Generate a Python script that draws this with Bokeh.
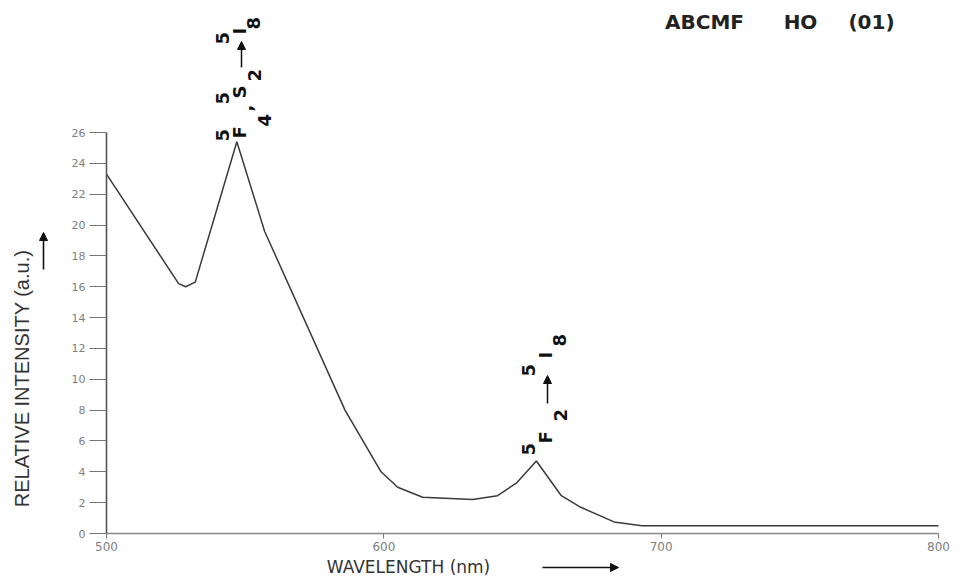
from bokeh.plotting import figure
from bokeh.models import Range1d, FixedTicker, Label, Arrow, NormalHead
from bokeh.embed import file_html
from bokeh.resources import INLINE
import math

# ---- data ----
wavelength = [500, 526, 528.5, 532, 547, 557, 586, 599, 605, 614, 632, 641, 648, 655, 664, 671, 683, 693, 800]
intensity = [23.3, 16.2, 16.0, 16.3, 25.4, 19.6, 8.0, 4.0, 3.0, 2.35, 2.2, 2.45, 3.3, 4.7, 2.45, 1.7, 0.75, 0.5, 0.5]
x_ticks = [500, 600, 700, 800]
y_ticks = [0, 2, 4, 6, 8, 10, 12, 14, 16, 18, 20, 22, 24, 26]
title_words = ["ABCMF", "HO", "(01)"]
x_label = "WAVELENGTH (nm)"
y_label = "RELATIVE INTENSITY (a.u.)"

# annotation pieces: (text, role)
peak1_pieces = [("5", "sup"), ("F", "main"), ("4", "sub"), (",", "sep"),
                ("5", "sup"), ("S", "main"), ("2", "sub"), ("->", "arrow"),
                ("5", "sup"), ("I", "main"), ("8", "sub")]
peak2_pieces = [("5", "sup"), ("F", "main"), ("2", "sub"), ("->", "arrow"),
                ("5", "sup"), ("I", "main"), ("8", "sub")]

# ---- layout (pixels) ----
W, H = 958, 578
AX_LEFT_PX, AX_RIGHT_PX = 106, 938      # x = 500 and x = 800
AX_ZERO_PX, AX_TOP_PX = 533, 132        # y = 0 and y = 26
NM_PER_PX = 300.0 / (AX_RIGHT_PX - AX_LEFT_PX)
UNIT_PER_PX = 26.0 / (AX_ZERO_PX - AX_TOP_PX)

x_start = 500 - AX_LEFT_PX * NM_PER_PX
x_end = 500 + (W - AX_LEFT_PX) * NM_PER_PX
y_start = -(H - AX_ZERO_PX) * UNIT_PER_PX
y_end = AX_ZERO_PX * UNIT_PER_PX

p = figure(width=W, height=H, output_backend="svg", toolbar_location=None,
           x_range=Range1d(x_start, x_end), y_range=Range1d(y_start, y_end),
           min_border=0, min_border_left=0, min_border_right=0,
           min_border_top=0, min_border_bottom=0)
p.outline_line_color = None
p.grid.visible = False
p.background_fill_color = "white"
p.border_fill_color = "white"

p.line(wavelength, intensity, line_color="#3a3a3a", line_width=1.5)

# axes drawn at fixed data locations inside the frame
p.xaxis.fixed_location = 0
p.xaxis.ticker = FixedTicker(ticks=x_ticks)
p.xaxis.bounds = (500, 800)
p.xaxis.axis_line_color = "#888888"
p.xaxis.axis_line_width = 1.6
p.xaxis.major_tick_line_color = "#777777"
p.xaxis.major_tick_out = 5
p.xaxis.major_tick_in = 0
p.xaxis.minor_tick_line_color = None
p.xaxis.major_label_text_font = "DejaVu Sans"
p.xaxis.major_label_text_font_size = "12px"
p.xaxis.major_label_text_color = "#808080"
p.xaxis.major_label_standoff = 3

p.yaxis.fixed_location = 500
p.yaxis.ticker = FixedTicker(ticks=y_ticks)
p.yaxis.bounds = (0, 26)
p.yaxis.axis_line_color = "#555555"
p.yaxis.axis_line_width = 1.6
p.yaxis.major_tick_line_color = "#777777"
p.yaxis.major_tick_out = 17
p.yaxis.major_tick_in = 0
p.yaxis.minor_tick_line_color = None
p.yaxis.major_label_text_font = "DejaVu Sans"
p.yaxis.major_label_text_font_size = "11px"
p.yaxis.major_label_text_color = "#808080"
p.yaxis.major_label_standoff = 4


# helpers converting pixel positions to data units (text placement only)
def dx(px):
    return 500 + (px - AX_LEFT_PX) * NM_PER_PX


def dy(py):
    return (AX_ZERO_PX - py) * UNIT_PER_PX


def add_label(text, px, py, size, font="DejaVu Sans", style="bold", angle=0.0,
              align="center", baseline="middle", color="#111111"):
    p.add_layout(Label(x=dx(px), y=dy(py), text=text, angle=angle,
                       text_font=font, text_font_style=style,
                       text_font_size=f"{size}px", text_color=color,
                       text_align=align, text_baseline=baseline))


def add_arrow(px0, py0, px1, py1, size=8, width=1.5):
    p.add_layout(Arrow(end=NormalHead(size=size, fill_color="#111111", line_color="#111111"),
                       x_start=dx(px0), y_start=dy(py0), x_end=dx(px1), y_end=dy(py1),
                       line_width=width, line_color="#111111"))


def vertical_annotation(pieces, main_x, positions, sub_shift):
    k = 0
    for (txt, role), pos in zip(pieces, positions):
        if role == "arrow":
            add_arrow(main_x + 2, pos[0], main_x + 2, pos[1])
            continue
        if role == "sup":
            cx = main_x - 17
        elif role == "sub":
            cx = main_x + sub_shift[k]
            k += 1
        elif role == "sep":
            cx = main_x + 6
        else:
            cx = main_x
        add_label(txt, cx, pos, 18, angle=math.pi / 2, align="left")


# first peak annotation (5F4 , 5S2 -> 5I8)
vertical_annotation(peak1_pieces, 239,
                    [141, 138, 126, 111, 104, 98, 81, (67, 41), 44, 34, 29],
                    [25, 15, 14])
# second peak annotation (5F2 -> 5I8)
vertical_annotation(peak2_pieces, 545,
                    [455, 443, 421, (403, 375), 376, 358, 346],
                    [15, 14])

# title (three words, spread as in the reference)
for word, cx in zip(title_words, [704, 800, 871]):
    add_label(word, cx, 21, 20, font="DejaVu Sans", style="bold", color="#222222")

# axis titles
add_label(y_label, 21, 378, 20, font="Liberation Sans", style="normal",
          angle=math.pi / 2, color="#333333")
add_arrow(43, 269, 43, 232, size=8, width=1.6)

add_label(x_label, 408, 566, 17, font="DejaVu Sans", style="normal", color="#333333")
add_arrow(542, 567, 618, 567, size=8, width=1.4)

open("out.html", "w").write(file_html(p, INLINE))
